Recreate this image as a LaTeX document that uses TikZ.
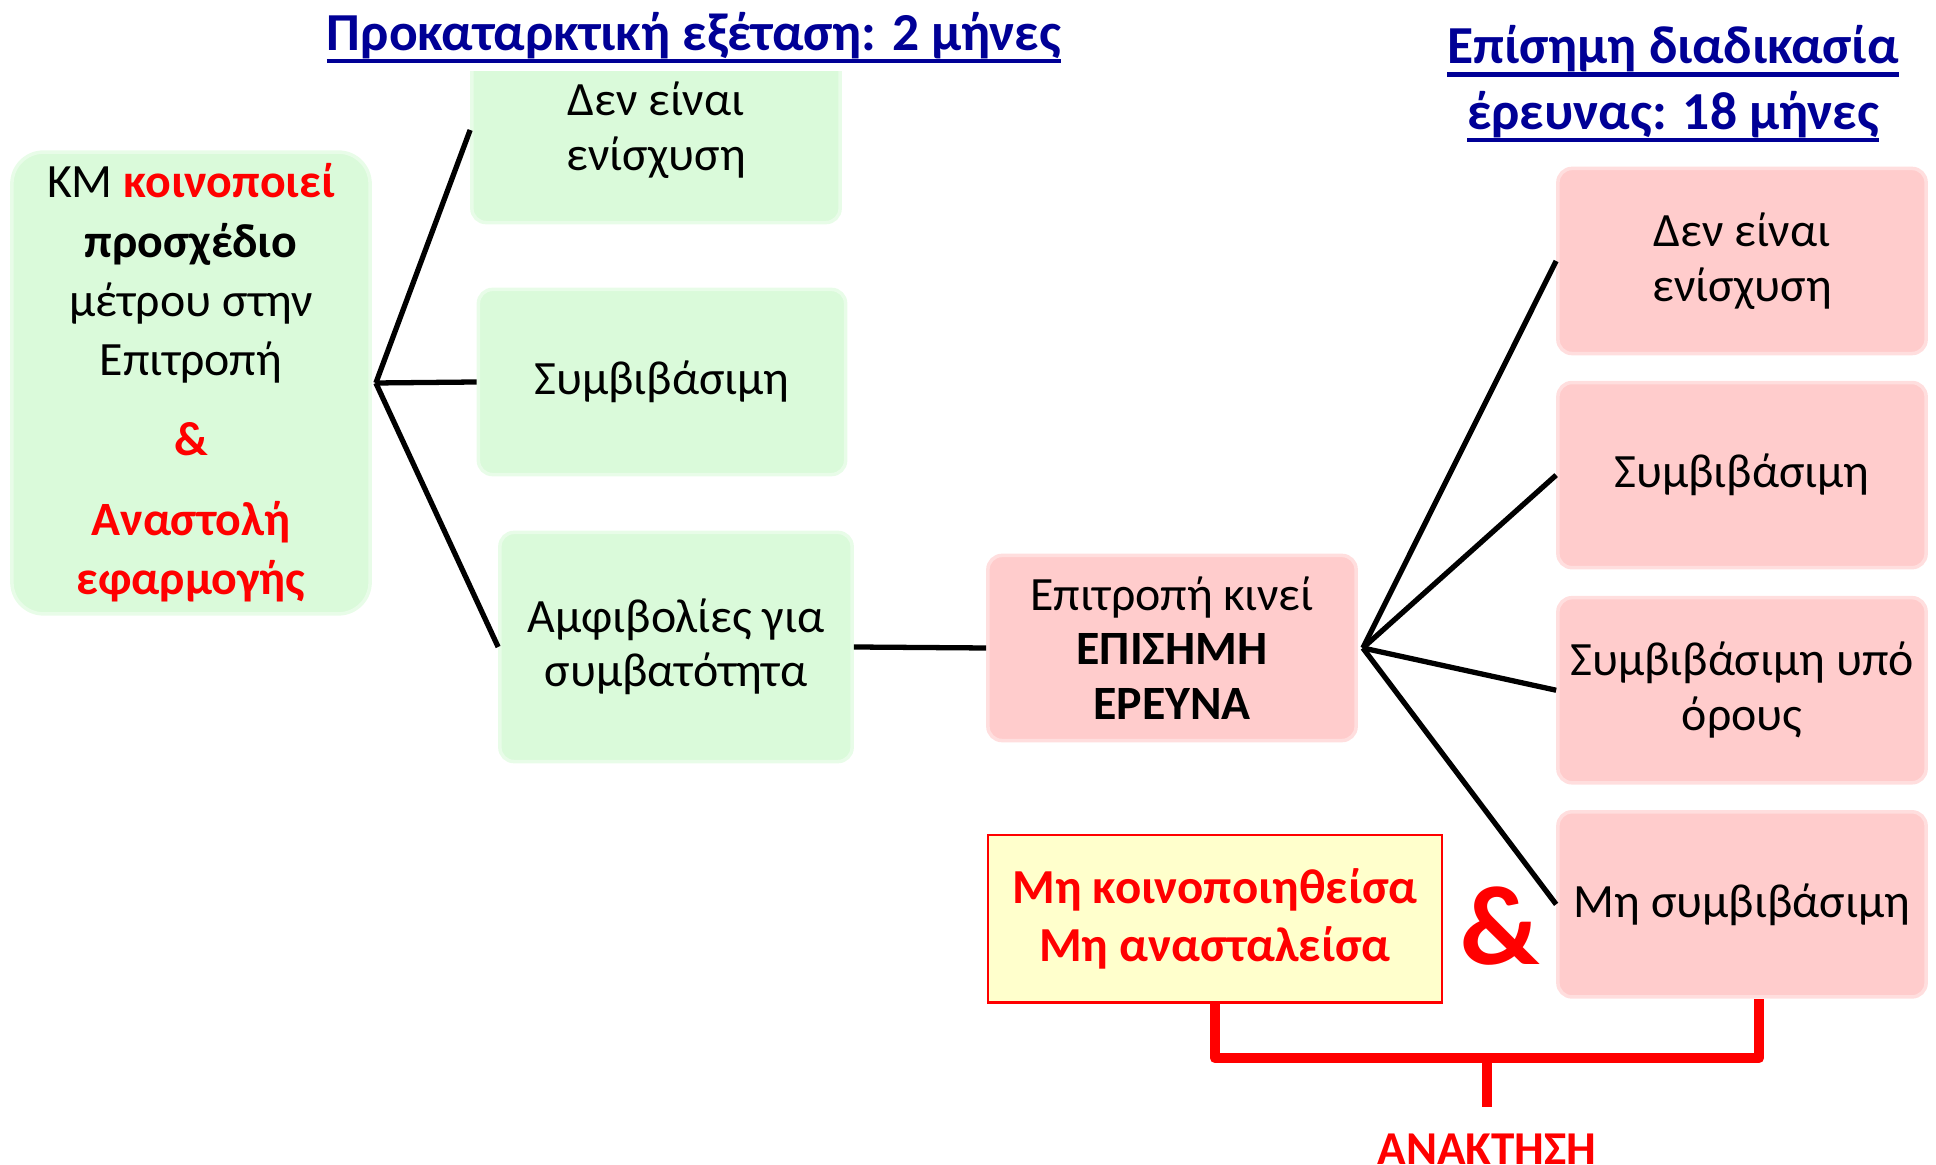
\documentclass[tikz,border=0pt]{standalone}
\usepackage{fontspec}
\setmainfont{Carlito}
\usetikzlibrary{positioning}

\definecolor{boxgreen}{RGB}{218,250,218}
\definecolor{edgegreen}{RGB}{232,252,232}
\definecolor{boxpink}{RGB}{255,204,204}
\definecolor{edgepink}{RGB}{255,222,222}
\definecolor{boxyellow}{RGB}{255,255,204}
\definecolor{titleblue}{RGB}{0,0,150}

% thick underline for the titles
\newcommand{\titleline}[1]{\leavevmode\setbox0\hbox{#1}\rlap{\rule[-3.6pt]{\wd0}{1.2pt}}\box0}

\begin{document}
\begin{tikzpicture}[x=0.01cm, y=-0.01cm, node distance=2.14cm]
        \tikzstyle{greenbox}=[rectangle, rounded corners=4pt, fill=boxgreen, draw=edgegreen, line width=1pt, minimum width=3.68cm, minimum height=1.85cm, align=center, font=\fontsize{13.6}{15.5}\selectfont];
        \tikzstyle{pinkbox}=[greenbox, fill=boxpink, draw=edgepink];
        \tikzstyle{title}=[align=center, text=titleblue, font=\fontsize{15.2}{18.7}\selectfont\bfseries];
        \tikzstyle{link}=[draw=black, line width=1.5pt];
        \tikzstyle{bracket}=[draw=red, line width=3pt, line join=round];
        \useasboundingbox (0,0) rectangle (1936,1165);

        \node[title] (pretitle) at (694,38) {\titleline{Προκαταρκτική εξέταση: 2 μήνες}};
        \node[title] (formtitle) at (1673,84) {\titleline{Επίσημη διαδικασία}\\\titleline{έρευνας: 18 μήνες}};

        \node[greenbox, rounded corners=9pt, minimum width=3.58cm, minimum height=4.57cm, font=\fontsize{13.6}{16.8}\selectfont] (notify) at (191,383)
          {ΚΜ \textcolor{red}{\textbf{κοινοποιεί}}\\\textbf{προσχέδιο}\\μέτρου στην\\Επιτροπή\\[6pt]\textcolor{red}{\textbf{\&}}\\[6pt]\textcolor{red}{\textbf{Αναστολή}}\\\textcolor{red}{\textbf{εφαρμογής}}};
        \begin{scope}
          \clip (400,72) rectangle (900,300);
          \node[greenbox] (noaid) at (656,130) {Δεν είναι\\ενίσχυση};
        \end{scope}
        \node[greenbox, minimum width=3.67cm] (compat) at (662,382) {Συμβιβάσιμη};
        \node[greenbox, minimum width=3.52cm, minimum height=2.29cm] (doubt) at (676,647) {Αμφιβολίες για\\συμβατότητα};

        \node[pinkbox] (formal) at (1172,648) {Επιτροπή κινεί\\\textbf{ΕΠΙΣΗΜΗ}\\\textbf{ΕΡΕΥΝΑ}};
        \node[pinkbox] (fnoaid) at (1742,261) {Δεν είναι\\ενίσχυση};
        \node[pinkbox, below of=fnoaid] (fcompat) {Συμβιβάσιμη};
        \node[pinkbox, below of=fcompat, yshift=-.01cm] (fcond) {Συμβιβάσιμη υπό\\όρους};
        \node[pinkbox, below of=fcond] (fincompat) {Μη συμβιβάσιμη};

        \node[rectangle, fill=boxyellow, draw=red, line width=.6pt, minimum width=4.54cm, minimum height=1.67cm, align=center, text=red, font=\fontsize{13.9}{16.4}\selectfont\bfseries] (unlawful) at (1215,919) {Μη κοινοποιηθείσα\\Μη ανασταλείσα};
        \node[text=red, font=\fontsize{32}{36}\selectfont\bfseries] (amp) at (1500,926) {\&};
        \node[anchor=north, inner sep=0pt, text=red, font=\fontsize{13.4}{16}\selectfont\bfseries] (recover) at (1487,1133) {ΑΝΑΚΤΗΣΗ};

        \coordinate[right=.04cm of notify] (split);
        \coordinate[right=.05cm of formal] (fsplit);
        \coordinate (join) at (1487,1058);

        \path[link]
        (split) edge (noaid.west)
        (split) edge (compat.west)
        (split) edge (doubt.west)
        (doubt.east) edge (formal.west)
        (fsplit) edge (fnoaid.west)
        (fsplit) edge (fcompat.west)
        (fsplit) edge (fcond.west)
        (fsplit) edge (fincompat.west);

        \draw[bracket] (unlawful.south) |- (join) -| ([xshift=.17cm]fincompat.south);
        \draw[bracket, line join=miter, shorten >=.26cm] (join) -- (recover.north);
\end{tikzpicture}
\end{document}
